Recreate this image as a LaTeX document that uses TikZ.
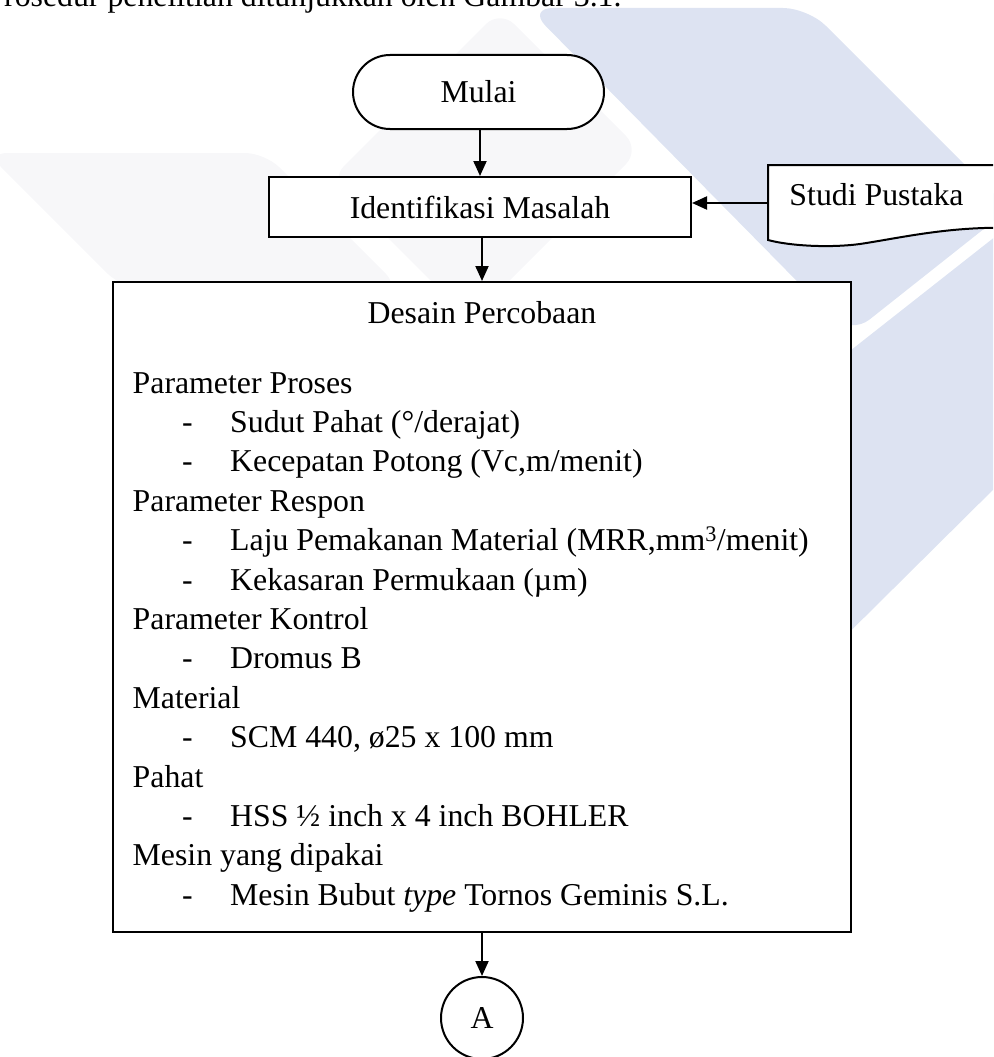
\documentclass[tikz,border=0pt]{standalone}
\usepackage{fontspec}
\setmainfont{Liberation Serif}
\usetikzlibrary{arrows.meta}
\definecolor{wmblue}{RGB}{221,227,242}
\definecolor{wmgrey}{RGB}{247,247,249}
\newcommand{\bodyfont}{\fontsize{31.8pt}{39.4pt}\selectfont}
\begin{document}
\begin{tikzpicture}[x=1pt,y=-1pt,
  box/.style={draw, line width=2pt, fill=white, inner sep=0pt, font=\bodyfont},
  conn/.style={line width=2pt, -{Triangle[length=15pt,width=13pt]}},
  txt/.style={inner sep=0pt, anchor=base west, font=\bodyfont},
  ctxt/.style={inner sep=0pt, anchor=base, font=\bodyfont},
  wmb/.style={fill=wmblue, rounded corners=25pt},
  wmg/.style={fill=wmgrey, rounded corners=20pt},
]
\useasboundingbox (0,0) rectangle (993,1057);
\clip (0,0) rectangle (993,1057);
% watermark
\fill[wmg] (-13,153) -- (265,153) -- (400,288) -- (122,288) -- cycle;
\fill[wmg] (500,10) -- (640,150) -- (470,320) -- (330,180) -- cycle;
\fill[wmb] (528,8) -- (808,8) -- (1009,209) -- (850,335) -- cycle;
\fill[wmblue] (780,406) -- (1010,225) -- (1010,473) -- (780,701) -- cycle;

% cut-off text line at the top
\node[txt] (intro) at (4,7) {rosedur penelitian ditunjukkan oleh Gambar 3.1.};

% nodes
\node[box, rounded corners=37pt, minimum width=251pt, minimum height=74pt] (mulai) at (478.5,92) {Mulai};
\node[box, minimum width=422pt, minimum height=60pt] (ident) at (480,207) {Identifikasi Masalah};
\draw[line width=2pt, fill=white] (768,240) -- (768,165) -- (1012,165) -- (1012,228)
  .. controls (950,226) and (900,238) .. (860,244)
  .. controls (830,248) and (790,246) .. (768,240) -- cycle;
\node[ctxt] (studi) at (876.5,205) {Studi Pustaka};
\coordinate (studiL) at (768,203);

\node[box, minimum width=738pt, minimum height=650pt] (desain) at (482,607) {};
\node[ctxt] (dtitle) at (482,323) {Desain Percobaan};

\node[txt] (h1) at (132.5,393) {Parameter Proses};
\node[txt] (d1) at (182,432.4) {-};
\node[txt] (i1) at (230,432.4) {Sudut Pahat (°/derajat)};
\node[txt] (d2) at (182,471.8) {-};
\node[txt] (i2) at (230,471.8) {Kecepatan Potong (Vc,m/menit)};
\node[txt] (h2) at (132.5,511.2) {Parameter Respon};
\node[txt] (d3) at (182,550.6) {-};
\node[txt] (i3) at (230,550.6) {Laju Pemakanan Material (MRR,mm\textsuperscript{3}/menit)};
\node[txt] (d4) at (182,590) {-};
\node[txt] (i4) at (230,590) {Kekasaran Permukaan (µm)};
\node[txt] (h3) at (132.5,629.4) {Parameter Kontrol};
\node[txt] (d5) at (182,668.8) {-};
\node[txt] (i5) at (230,668.8) {Dromus B};
\node[txt] (h4) at (132.5,708.2) {Material};
\node[txt] (d6) at (182,747.6) {-};
\node[txt] (i6) at (230,747.6) {SCM 440, ø25 x 100 mm};
\node[txt] (h5) at (132.5,787) {Pahat};
\node[txt] (d7) at (182,826.4) {-};
\node[txt] (i7) at (230,826.4) {HSS ½ inch x 4 inch BOHLER};
\node[txt] (h6) at (132.5,865.8) {Mesin yang dipakai};
\node[txt] (d8) at (182,905.2) {-};
\node[txt] (i8) at (230,905.2) {Mesin Bubut \textit{type} Tornos Geminis S.L.};

\node[box, circle, minimum size=82pt] (a) at (482,1018) {A};

% connectors
\draw[conn] (ident.north |- mulai.south) -- (ident.north);
\draw[conn] (ident.south -| desain.north) -- (desain.north);
\draw[conn] (studiL) -- (ident.east |- studiL);
\draw[conn] (desain.south) -- (a.north);
\end{tikzpicture}
\end{document}
